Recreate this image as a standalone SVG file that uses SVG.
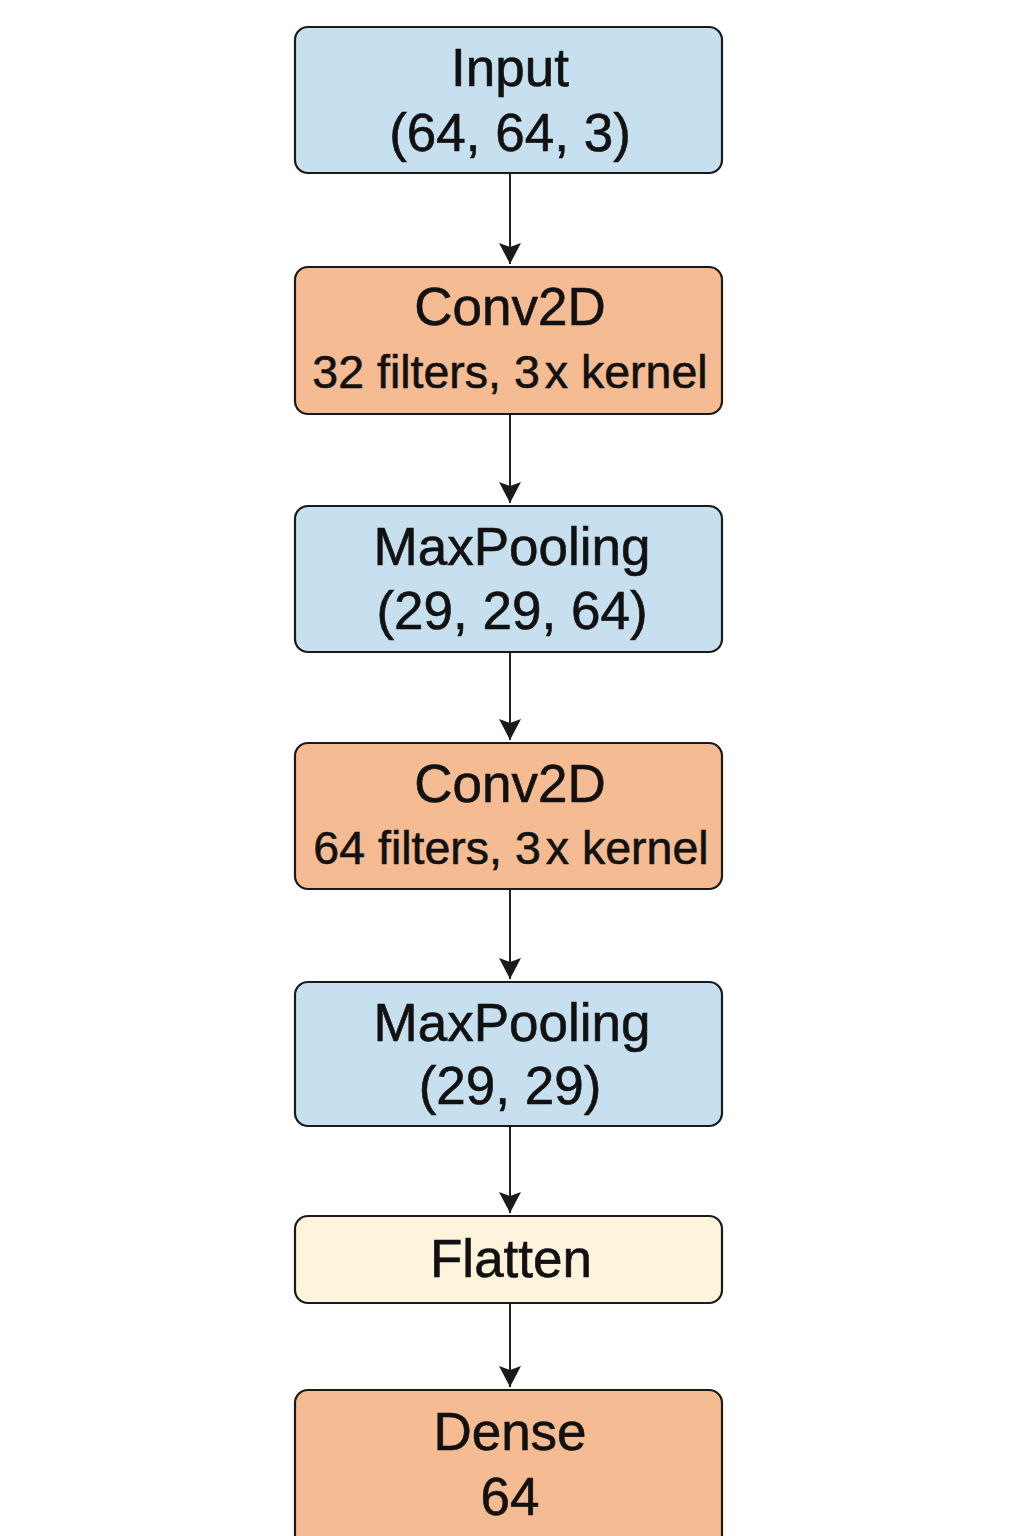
<svg xmlns="http://www.w3.org/2000/svg" width="1024" height="1536" viewBox="0 0 1024 1536">
<style>
.box{stroke:#1a1a1a;stroke-width:2.2}
.blue{fill:#C6E0F0}
.orange{fill:#F5BB92}
.cream{fill:#FEF4DC}
text{font-family:"Liberation Sans",Arial,sans-serif;fill:#111;stroke:#111;stroke-width:0.6;text-anchor:middle}
.t{font-size:53px}
.s{font-size:46.5px}
.edge{stroke:#222;stroke-width:2;fill:none}
</style>
<defs>
<marker id="arr" markerWidth="26" markerHeight="24" refX="21" refY="12" orient="auto" markerUnits="userSpaceOnUse">
<path d="M0,1 L21,12 L0,23 L4,12 Z" fill="#1a1a1a"/>
</marker>
</defs>
<rect width="1024" height="1536" fill="#ffffff"/>
<g id="connectors">
<line class="edge" x1="510" y1="174" x2="510" y2="264" marker-end="url(#arr)"/>
<line class="edge" x1="510" y1="415" x2="510" y2="503" marker-end="url(#arr)"/>
<line class="edge" x1="510" y1="653" x2="510" y2="740" marker-end="url(#arr)"/>
<line class="edge" x1="510" y1="890" x2="510" y2="979" marker-end="url(#arr)"/>
<line class="edge" x1="510" y1="1127" x2="510" y2="1213" marker-end="url(#arr)"/>
<line class="edge" x1="510" y1="1304" x2="510" y2="1387" marker-end="url(#arr)"/>
</g>
<g id="input">
<rect class="box blue" x="295" y="27" width="427" height="146" rx="13"/>
<text class="t" x="510" y="86">Input</text>
<text class="t" x="510" y="151">(64, 64, 3)</text>
</g>
<g id="conv1">
<rect class="box orange" x="295" y="267" width="427" height="147" rx="13"/>
<text class="t" x="510" y="325">Conv2D</text>
<text class="s" x="510" y="388">32 filters, 3<tspan dx="5">x</tspan> kernel</text>
</g>
<g id="pool1">
<rect class="box blue" x="295" y="506" width="427" height="146" rx="13"/>
<text class="t" x="512" y="565">MaxPooling</text>
<text class="t" x="512" y="629">(29, 29, 64)</text>
</g>
<g id="conv2">
<rect class="box orange" x="295" y="743" width="427" height="146" rx="13"/>
<text class="t" x="510" y="802">Conv2D</text>
<text class="s" x="511" y="864">64 filters, 3<tspan dx="5">x</tspan> kernel</text>
</g>
<g id="pool2">
<rect class="box blue" x="295" y="982" width="427" height="144" rx="13"/>
<text class="t" x="512" y="1041">MaxPooling</text>
<text class="t" x="510" y="1104">(29, 29)</text>
</g>
<g id="flatten">
<rect class="box cream" x="295" y="1216" width="427" height="87" rx="13"/>
<text class="t" x="511" y="1277">Flatten</text>
</g>
<g id="dense">
<rect class="box orange" x="295" y="1390" width="427" height="170" rx="13"/>
<text class="t" x="510" y="1450">Dense</text>
<text class="t" x="510" y="1515">64</text>
</g>
</svg>
